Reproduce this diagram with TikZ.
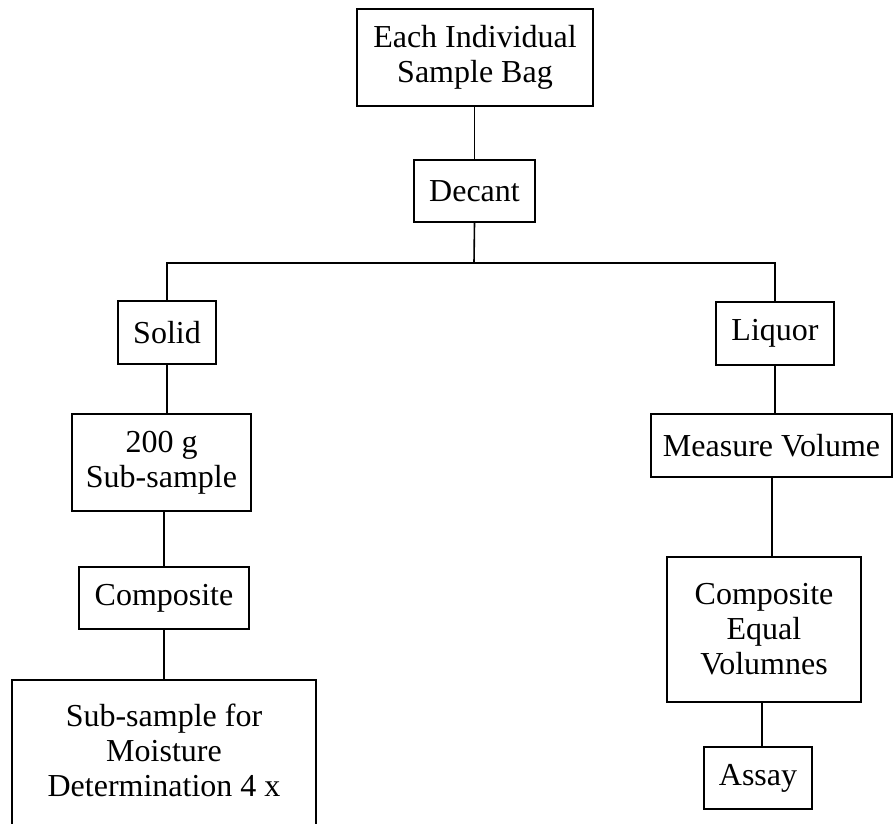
\documentclass[tikz,border=0pt]{standalone}
\usepackage{fontspec}
\setmainfont{Liberation Serif}
\begin{document}
\begin{tikzpicture}[x=1pt,y=-1pt,
  box/.style={draw, line width=1.8pt, rectangle, inner sep=0pt, align=center,
    font=\fontsize{32}{35}\selectfont},
  txt/.style={inner sep=0pt, align=center, font=\fontsize{32}{35}\selectfont},
  conn/.style={line width=1.6pt}]
\useasboundingbox (0,0) rectangle (894,823);
\clip (0,0) rectangle (894,823);
\node[box, minimum width=236pt, minimum height=97pt] (top) at (475,57.5) {Each Individual\\Sample Bag};
\node[box, minimum width=121pt, minimum height=62pt] (decant) at (474.5,191) {Decant};
\node[box, minimum width=98pt, minimum height=63pt] (solid) at (167,332.5) {Solid};
\node[box, minimum width=118pt, minimum height=63pt] (liquor) at (775,333.5) {Liquor};
\node[box, minimum width=179pt, minimum height=97pt] (g200) at (161.5,462.5) {200 g\\Sub-sample};
\node[box, minimum width=241pt, minimum height=63pt] (measure) at (771.5,445.5) {Measure Volume};
\node[box, minimum width=170pt, minimum height=62pt] (compl) at (164,598) {Composite};
\node[box, minimum width=194pt, minimum height=145pt] (compeq) at (764,629.5) {Composite\\Equal\\Volumnes};
\node[box, minimum width=304pt, minimum height=160pt] (moist) at (164,760) {};
\node[txt] (moisttxt) at (164,750) {Sub-sample for\\Moisture\\Determination 4 x};
\node[box, minimum width=108pt, minimum height=62pt] (assay) at (758,778) {Assay};
\coordinate (split) at (474,263);
\draw[conn] (top.south -| decant.north) -- (decant.north);
\draw[conn] (decant.south) -- (split);
\draw[conn] (solid.north) -- (solid.north |- split) -- (liquor.north |- split) -- (liquor.north);
\draw[conn] (solid.south) -- (solid.south |- g200.north);
\draw[conn] (compl.north |- g200.south) -- (compl.north);
\draw[conn] (compl.south) -- (moist.north);
\draw[conn] (liquor.south) -- (liquor.south |- measure.north);
\draw[conn] (measure.south -| compeq.north) ++(8,0) -- ([xshift=8pt]compeq.north);
\draw[conn] (assay.north |- compeq.south) ++(4,0) -- ([xshift=4pt]assay.north);
\end{tikzpicture}
\end{document}
